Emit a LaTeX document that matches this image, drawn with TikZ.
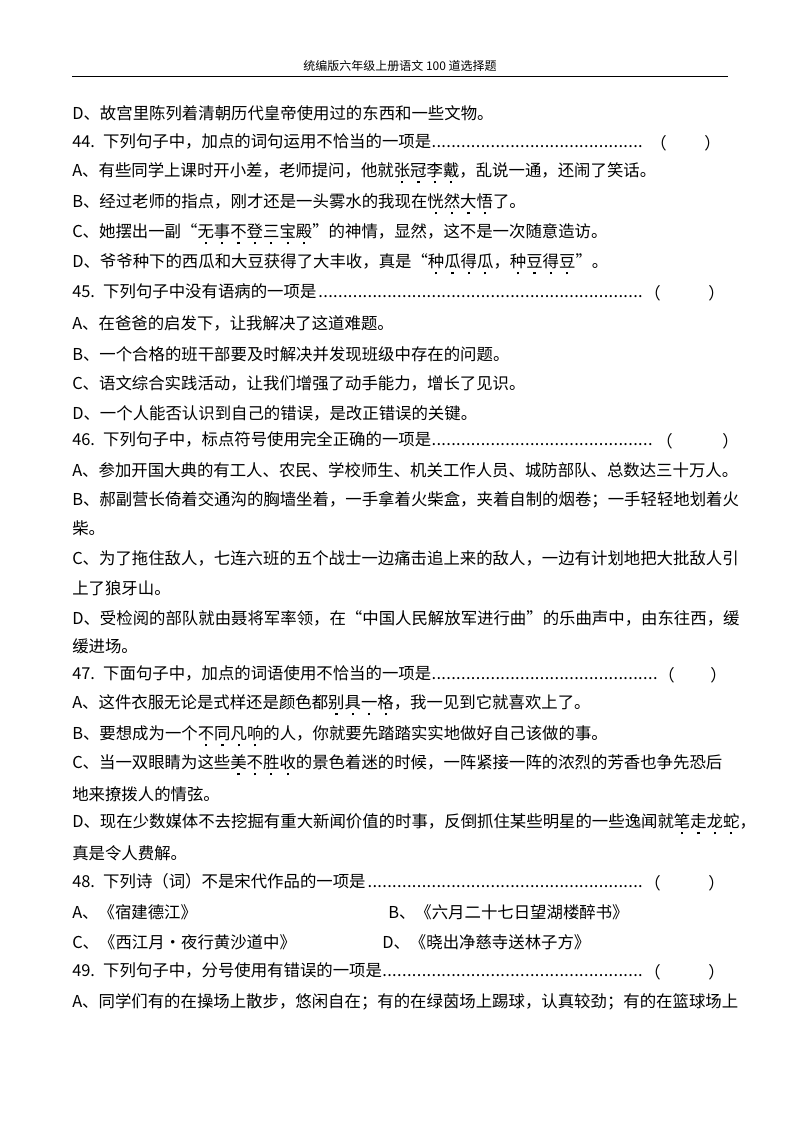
\documentclass[tikz,border=0pt]{standalone}
\usepackage{fontspec}
\setmainfont{Noto Sans CJK SC}
\newcommand\dotu[1]{\setbox0\hbox{#1}\rlap{\hbox to\wd0{\hss\raisebox{-0.42em}{\rule{1.6pt}{1.6pt}}\hss}}\box0}
\newcommand\leaderdots{\leaders\hbox to 0.3em{\hss.\hss}\hfill}
\begin{document}
\begin{tikzpicture}[x=0.75pt,y=-0.75pt,
  ln/.style={anchor=west,inner sep=0pt,font=\fontsize{12.3pt}{15pt}\selectfont},
  qn/.style={ln,text width=#1*0.75pt,align=left}]
\useasboundingbox (0,0) rectangle (800,1132);
\node[font=\fontsize{9pt}{11pt}\selectfont] (hd) at (400,66) {统编版六年级上册语文 100 道选择题};
\draw[line width=0.6pt] (72,76) -- (728,76);
\node[ln] (l1) at (72,113) {D、故宫里陈列着清朝历代皇帝使用过的东西和一些文物。};
\node[qn=572] (q44) at (72,143) {44. 下列句子中，加点的词句运用不恰当的一项是\leaderdots\strut};
\node[ln] (p44) at (650,143) {（};\node[ln] (r44) at (704,143) {）};
\node[ln] (a44) at (72,173) {A、有些同学上课时开小差，老师提问，他就\dotu{张}\dotu{冠}\dotu{李}\dotu{戴}，乱说一通，还闹了笑话。};
\node[ln] (b44) at (72,204) {B、经过老师的指点，刚才还是一头雾水的我现在\dotu{恍}\dotu{然}\dotu{大}\dotu{悟}了。};
\node[ln] (c44) at (72,234) {C、她摆出一副“\dotu{无}\dotu{事}\dotu{不}\dotu{登}\dotu{三}\dotu{宝}\dotu{殿}”的神情，显然，这不是一次随意造访。};
\node[ln] (d44) at (72,264) {D、爷爷种下的西瓜和大豆获得了大丰收，真是“\dotu{种}\dotu{瓜}\dotu{得}\dotu{瓜}，\dotu{种}\dotu{豆}\dotu{得}\dotu{豆}”。};
\node[qn=572] (q45) at (72,293) {45. 下列句子中没有语病的一项是\leaderdots\strut};
\node[ln] (p45) at (644,293) {（};\node[ln] (r45) at (708,293) {）};
\node[ln] (a45) at (72,323) {A、在爸爸的启发下，让我解决了这道难题。};
\node[ln] (b45) at (72,354) {B、一个合格的班干部要及时解决并发现班级中存在的问题。};
\node[ln] (c45) at (72,383) {C、语文综合实践活动，让我们增强了动手能力，增长了见识。};
\node[ln] (d45) at (72,413) {D、一个人能否认识到自己的错误，是改正错误的关键。};
\node[qn=584] (q46) at (72,441) {46. 下列句子中，标点符号使用完全正确的一项是\leaderdots\strut};
\node[ln] (p46) at (656,441) {（};\node[ln] (r46) at (722,441) {）};
\node[ln] (a46) at (72,470) {A、参加开国大典的有工人、农民、学校师生、机关工作人员、城防部队、总数达三十万人。};
\node[ln] (b46) at (72,500) {B、郝副营长倚着交通沟的胸墙坐着，一手拿着火柴盒，夹着自制的烟卷；一手轻轻地划着火};
\node[ln] (b46b) at (72,528) {柴。};
\node[ln] (c46) at (72,558) {C、为了拖住敌人，七连六班的五个战士一边痛击追上来的敌人，一边有计划地把大批敌人引};
\node[ln] (c46b) at (72,588) {上了狼牙山。};
\node[ln] (d46) at (72,618) {D、受检阅的部队就由聂将军率领，在“中国人民解放军进行曲”的乐曲声中，由东往西，缓};
\node[ln] (d46b) at (72,646) {缓进场。};
\node[qn=586] (q47) at (72,675) {47. 下面句子中，加点的词语使用不恰当的一项是\leaderdots\strut};
\node[ln] (p47) at (658,675) {（};\node[ln] (r47) at (710,675) {）};
\node[ln] (a47) at (72,705) {A、这件衣服无论是式样还是颜色都\dotu{别}\dotu{具}\dotu{一}\dotu{格}，我一见到它就喜欢上了。};
\node[ln] (b47) at (72,736) {B、要想成为一个\dotu{不}\dotu{同}\dotu{凡}\dotu{响}的人，你就要先踏踏实实地做好自己该做的事。};
\node[ln] (c47) at (72,765) {C、当一双眼睛为这些\dotu{美}\dotu{不}\dotu{胜}\dotu{收}的景色着迷的时候，一阵紧接一阵的浓烈的芳香也争先恐后};
\node[ln] (c47b) at (72,794) {地来撩拨人的情弦。};
\node[ln] (d47) at (72,824) {D、现在少数媒体不去挖掘有重大新闻价值的时事，反倒抓住某些明星的一些逸闻就\dotu{笔}\dotu{走}\dotu{龙}\dotu{蛇}，};
\node[ln] (d47b) at (72,853) {真是令人费解。};
\node[qn=572] (q48) at (72,883) {48. 下列诗（词）不是宋代作品的一项是\leaderdots\strut};
\node[ln] (p48) at (644,883) {（};\node[ln] (r48) at (708,883) {）};
\node[ln] (a48) at (72,912) {A、《宿建德江》};
\node[ln] (b48) at (388,912) {B、《六月二十七日望湖楼醉书》};
\node[ln] (c48) at (72,942) {C、《西江月·夜行黄沙道中》};
\node[ln] (d48) at (382,942) {D、《晓出净慈寺送林子方》};
\node[qn=572] (q49) at (72,972) {49. 下列句子中，分号使用有错误的一项是\leaderdots\strut};
\node[ln] (p49) at (644,972) {（};\node[ln] (r49) at (708,972) {）};
\node[ln] (a49) at (72,1002) {A、同学们有的在操场上散步，悠闲自在；有的在绿茵场上踢球，认真较劲；有的在篮球场上};
\end{tikzpicture}
\end{document}
